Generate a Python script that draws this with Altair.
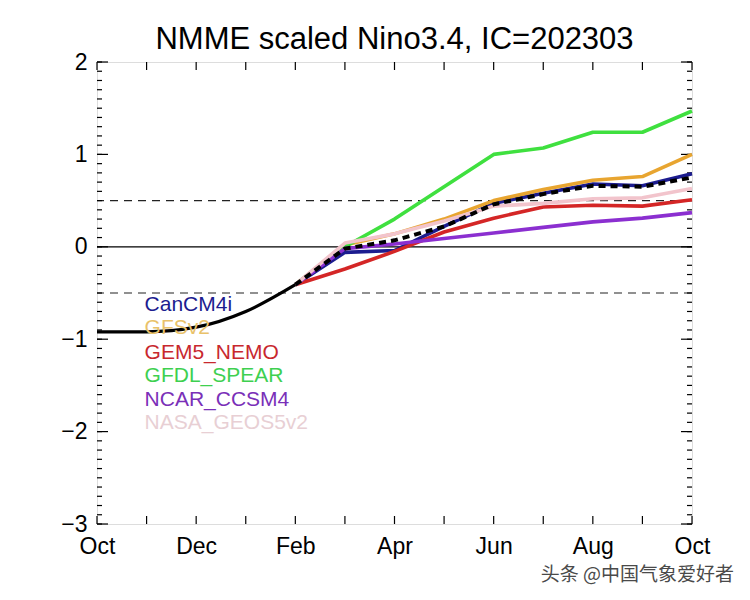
import altair as alt
import pandas as pd

# ---------------- data ----------------
months = ["Oct", "Nov", "Dec", "Jan", "Feb", "Mar", "Apr",
          "May", "Jun", "Jul", "Aug", "Sep", "Oct"]
obs_idx = [0, 1, 2, 3, 4]
obs_vals = [-0.92, -0.92, -0.87, -0.70, -0.41]

fc_idx = [4, 5, 6, 7, 8, 9, 10, 11, 12]
models = ["CanCM4i", "GFSv2", "GEM5_NEMO", "GFDL_SPEAR", "NCAR_CCSM4", "NASA_GEOS5v2"]
canc = [-0.41, -0.06, -0.04, 0.22, 0.47, 0.58, 0.68, 0.66, 0.79]
gfs = [-0.41, 0.02, 0.14, 0.30, 0.50, 0.62, 0.72, 0.76, 1.00]
gem = [-0.41, -0.24, -0.05, 0.16, 0.31, 0.43, 0.45, 0.44, 0.51]
gfdl = [-0.41, 0.00, 0.30, 0.65, 1.00, 1.07, 1.24, 1.24, 1.47]
ncar = [-0.41, -0.02, 0.03, 0.09, 0.15, 0.21, 0.27, 0.31, 0.37]
nasa = [-0.41, 0.04, 0.14, 0.28, 0.44, 0.47, 0.52, 0.53, 0.63]
mean = [-0.41, -0.02, 0.07, 0.22, 0.46, 0.57, 0.66, 0.65, 0.75]
series = [canc, gfs, gem, gfdl, ncar, nasa]

line_colors = ["#1c1c8f", "#e8a530", "#d42626", "#3fe03f", "#8b2fd0", "#f2c4cc"]
text_colors = ["#1c1c8f", "#e9c26a", "#c8282e", "#3ed050", "#7a2fb8", "#e8cfd4"]

# legend label anchor (data coords)
leg_x = [0.96] * 6
leg_y = [-0.63, -0.88, -1.15, -1.40, -1.66, -1.91]

x_ticks = list(range(13))
x_label_vals = [0, 2, 4, 6, 8, 10, 12]
y_major = [-3, -2, -1, 0, 1, 2]
y_minor = [round(-3 + 0.1 * i, 1) for i in range(51)]
ref_dash = [-0.5, 0.5]
ref_zero = [0]

title = "NMME scaled Nino3.4, IC=202303"
watermark = "头条 @中国气象爱好者"

# ---------------- build ----------------
W, H = 595, 462
FONT = "Liberation Sans"

fc_rows = []
for name, vals in zip(models, series):
    for i, v in zip(fc_idx, vals):
        fc_rows.append({"model": name, "m": i, "v": v})
fc_df = pd.DataFrame(fc_rows)
mean_df = pd.DataFrame({"m": fc_idx, "v": mean})
obs_df = pd.DataFrame({"m": obs_idx, "v": obs_vals})
leg_df = pd.DataFrame({"model": models, "x": leg_x, "y": leg_y, "c": text_colors})

label_expr = "[" + ",".join("'%s'" % s for s in months) + "][datum.value]"

xs = alt.Scale(domain=[0, 12], nice=False, zero=False)
ys = alt.Scale(domain=[-3, 2], nice=False, zero=False)

x_axis = alt.Axis(values=x_label_vals, labelExpr=label_expr, ticks=False, domain=False,
                  grid=False, labelFontSize=23, labelFont=FONT, labelColor="black",
                  labelPadding=11, labelFlush=False, title=None)
y_axis = alt.Axis(values=y_major, labelExpr="replace(format(datum.value, 'd'), '-', '\u2212')",
                  ticks=False, domain=False, grid=False, labelFontSize=23, labelFont=FONT,
                  labelColor="black", labelPadding=10, labelFlush=False, title=None)

X = alt.X("m:Q", scale=xs, axis=x_axis)
Y = alt.Y("v:Q", scale=ys, axis=y_axis)

base_refs = alt.Chart(pd.DataFrame({"v": ref_zero})).mark_rule(color="black", strokeWidth=1.3).encode(y=Y)
dash_refs = alt.Chart(pd.DataFrame({"v": ref_dash})).mark_rule(
    color="#222", strokeWidth=1.1, strokeDash=[8, 6]).encode(y=alt.Y("v:Q", scale=ys))

xt = pd.DataFrame({"m": x_ticks})
ymaj = pd.DataFrame({"v": y_major})
ymin = pd.DataFrame({"v": y_minor})
tk = dict(color="black", strokeWidth=1.2)
tick_layers = [
    alt.Chart(xt).mark_rule(**tk).encode(x=alt.X("m:Q", scale=xs), y=alt.value(H), y2=alt.value(H - 8)),
    alt.Chart(xt).mark_rule(**tk).encode(x=alt.X("m:Q", scale=xs), y=alt.value(0), y2=alt.value(8)),
    alt.Chart(ymaj).mark_rule(**tk).encode(y=alt.Y("v:Q", scale=ys), x=alt.value(0), x2=alt.value(11)),
    alt.Chart(ymin).mark_rule(**tk).encode(y=alt.Y("v:Q", scale=ys), x=alt.value(0), x2=alt.value(5)),
    alt.Chart(ymaj).mark_rule(**tk).encode(y=alt.Y("v:Q", scale=ys), x=alt.value(W), x2=alt.value(W - 11)),
    alt.Chart(ymin).mark_rule(**tk).encode(y=alt.Y("v:Q", scale=ys), x=alt.value(W), x2=alt.value(W - 5)),
]

fc_lines = alt.Chart(fc_df).mark_line(strokeWidth=3.6, strokeJoin="round").encode(
    x=alt.X("m:Q", scale=xs),
    y=alt.Y("v:Q", scale=ys),
    color=alt.Color("model:N", scale=alt.Scale(domain=models, range=line_colors), legend=None),
    detail="model:N",
)
mean_line = alt.Chart(mean_df).mark_line(color="black", strokeWidth=4, strokeDash=[7, 5]).encode(
    x=alt.X("m:Q", scale=xs), y=alt.Y("v:Q", scale=ys))
obs_line = alt.Chart(obs_df).mark_line(color="black", strokeWidth=3.2, interpolate="monotone").encode(
    x=X, y=Y)

legend_text = alt.Chart(leg_df).mark_text(
    align="left", baseline="middle", fontSize=21, font=FONT).encode(
    x=alt.X("x:Q", scale=xs), y=alt.Y("y:Q", scale=ys),
    text="model:N", color=alt.Color("c:N", scale=None))

wm = alt.Chart(pd.DataFrame({"t": [watermark]})).mark_text(
    align="right", baseline="middle", fontSize=19, font="Noto Sans CJK SC", color="#4a4a4a").encode(
    text="t:N", x=alt.value(W + 42), y=alt.value(H + 51))

chart = alt.layer(
    base_refs, dash_refs, *tick_layers, fc_lines, mean_line, obs_line, legend_text, wm
).properties(
    width=W, height=H,
    title=alt.TitleParams(title, fontSize=31, font=FONT, fontWeight="normal",
                          anchor="middle", color="black", offset=-5),
    autosize=alt.AutoSizeParams(type="none"),
    padding={"left": 89, "top": 54, "right": 50, "bottom": 76},
).configure_view(stroke="black", strokeWidth=1.5).configure(background="white")

chart.save("out.html", embed_options={"renderer": "svg", "actions": False})
